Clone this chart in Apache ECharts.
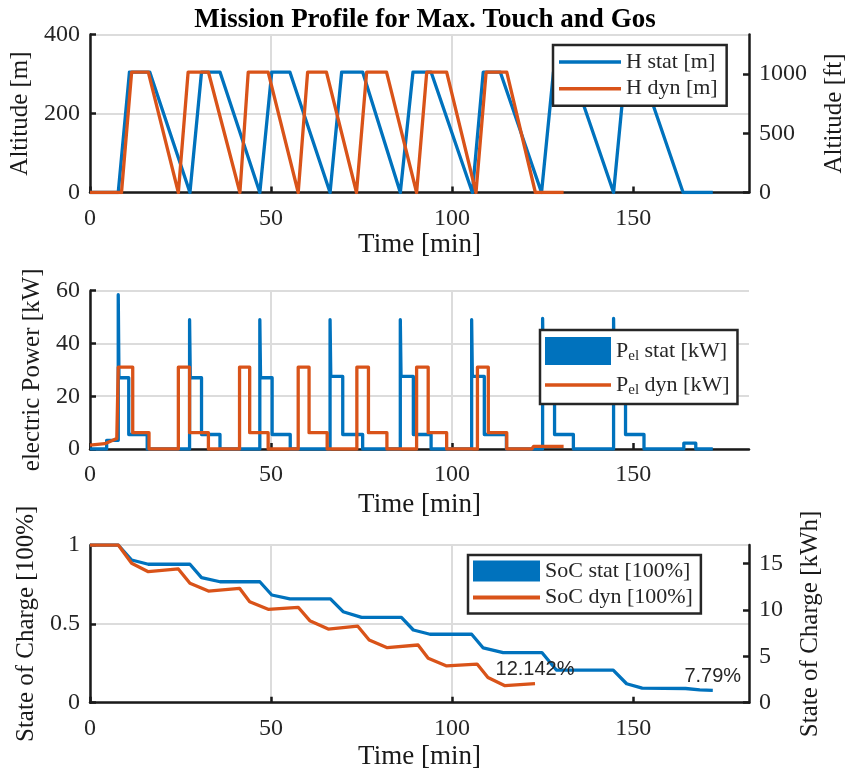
<!DOCTYPE html>
<html>
<head>
<meta charset="utf-8">
<script src="https://cdn.jsdelivr.net/npm/echarts@6/dist/echarts.min.js"></script>
<style>
  html, body { margin: 0; padding: 0; background: #fff; }
  #chart { width: 847px; height: 776px; }
</style>
</head>
<body>
<div id="chart"></div>
<script>
// altitude [m] over time [min]
const hStatT = [0, 7.8, 10.9, 16.5, 27.6, 30.8, 35.9, 46.9, 50.2, 55.2, 66.3, 69.5, 75.3, 85.7, 89.2, 94.2, 105.6, 108.6, 113.3, 124.7, 128.0, 133.2, 144.6, 147.8, 152.4, 163.8, 172.0];
const hStatV = [0, 0, 305, 305, 0, 305, 305, 0, 305, 305, 0, 305, 305, 0, 305, 305, 0, 305, 305, 0, 305, 305, 0, 305, 305, 0, 0];
const hDynT = [0, 8.7, 11.5, 16.1, 24.4, 27.1, 32.7, 41.4, 43.7, 49.2, 57.5, 60.1, 65.3, 73.6, 76.4, 81.9, 90.2, 93.0, 98.5, 106.6, 109.4, 115.1, 123.0, 130.8];
const hDynV = [0, 0, 305, 305, 0, 305, 305, 0, 305, 305, 0, 305, 305, 0, 305, 305, 0, 305, 305, 0, 305, 305, 0, 0];

// electric power [kW]
const pStatT = [0, 4.6, 4.6, 7.8, 7.8, 8.0, 8.0, 10.7, 10.7, 15.8, 15.8,
  27.5, 27.5, 27.7, 27.7, 30.8, 30.8, 35.9, 35.9,
  46.9, 46.9, 47.1, 47.1, 50.3, 50.3, 55.3, 55.3,
  66.3, 66.3, 66.5, 66.5, 69.8, 69.8, 75.3, 75.3,
  85.7, 85.7, 85.9, 85.9, 89.3, 89.3, 94.2, 94.2,
  105.4, 105.4, 105.6, 105.6, 108.9, 108.9, 115.0, 115.0,
  125.0, 125.0, 125.2, 125.2, 128.3, 128.3, 133.5, 133.5,
  144.6, 144.6, 144.8, 144.8, 147.9, 147.9, 153.0, 153.0,
  164.0, 164.0, 167.3, 167.3, 172.0];
const pStatV = [0, 0, 3.3, 3.3, 58.5, 58.5, 27, 27, 5.5, 5.5, 0,
  0, 49, 49, 27, 27, 5.5, 5.5, 0,
  0, 49, 49, 27, 27, 5.5, 5.5, 0,
  0, 49, 49, 27.5, 27.5, 5.5, 5.5, 0,
  0, 49, 49, 27.5, 27.5, 5.5, 5.5, 0,
  0, 49, 49, 27.5, 27.5, 5.5, 5.5, 0,
  0, 49.5, 49.5, 27.5, 27.5, 5.5, 5.5, 0,
  0, 49.5, 49.5, 27.5, 27.5, 5.5, 5.5, 0,
  0, 2.2, 2.2, 0, 0];
const pDynT = [0, 4.1, 7.4, 7.8, 11.8, 11.8, 16.3, 16.3,
  24.4, 24.4, 27.5, 27.5, 32.7, 32.7,
  41.3, 41.3, 44.1, 44.1, 49.2, 49.2,
  57.5, 57.5, 60.5, 60.5, 65.5, 65.5,
  73.7, 73.7, 76.9, 76.9, 82.0, 82.0,
  90.2, 90.2, 93.4, 93.4, 98.5, 98.5,
  107.0, 107.0, 110.0, 110.0, 115.1, 115.1,
  122.0, 122.5, 130.8];
const pDynV = [1.5, 2, 4, 31, 31, 6.2, 6.2, 0,
  0, 31, 31, 6.2, 6.2, 0,
  0, 31, 31, 6.2, 6.2, 0,
  0, 31, 31, 6.2, 6.2, 0,
  0, 31, 31, 6.2, 6.2, 0,
  0, 31, 31, 6.2, 6.2, 0,
  0, 31, 31, 6.2, 6.2, 0,
  0, 1, 1];

// state of charge [100%]
const socStatT = [0, 7.8, 11.5, 16.1, 27.6, 30.8, 35.9, 46.9, 50.2, 55.2, 66.4, 69.9, 75.0, 86.0, 89.3, 93.9, 105.4, 108.6, 114.1, 124.8, 128.8, 144.5, 148.2, 152.5, 164.5, 168.4, 172.0];
const socStatV = [1, 1, 0.905, 0.878, 0.878, 0.793, 0.767, 0.767, 0.683, 0.658, 0.658, 0.577, 0.541, 0.541, 0.461, 0.434, 0.434, 0.347, 0.318, 0.318, 0.207, 0.207, 0.12, 0.092, 0.09, 0.081, 0.0779];
const socDynT = [0, 7.8, 11.5, 16.1, 24.4, 27.6, 32.7, 41.3, 44.1, 49.2, 57.5, 60.7, 65.8, 73.9, 77.1, 82.1, 90.6, 93.4, 98.5, 106.9, 109.9, 114.6, 122.9];
const socDynV = [1, 1, 0.884, 0.831, 0.848, 0.757, 0.708, 0.725, 0.640, 0.592, 0.605, 0.520, 0.467, 0.486, 0.398, 0.349, 0.366, 0.282, 0.233, 0.245, 0.16, 0.108, 0.12142];

// tick labels
const timeTicks = [0, 50, 100, 150];
const altMTicks = [0, 200, 400];
const altFtTicks = [0, 500, 1000];
const powerTicks = [0, 20, 40, 60];
const socTicks = [0, 0.5, 1];
const kwhTicks = [0, 5, 10, 15];

const BLUE = '#0072BD';
const ORANGE = '#D95319';
const SERIF = 'Liberation Serif';
const AXIS_COL = '#1a1a1a';
const TEXT_COL = '#262626';
const LINE_ICON = 'path://M0,0 H62 V3.5 H0 Z';

const pairs = (t, v) => t.map((x, i) => [x, v[i]]);
// only the last point gets a (invisible) symbol so that its label is drawn
const withEndLabel = (t, v) => t.map((x, i) => {
  if (i < t.length - 1) return [x, v[i]];
  return {
    value: [x, v[i]],
    symbol: 'circle', symbolSize: 2,
    itemStyle: { color: 'rgba(0,0,0,0)' },
    label: {
      show: true, position: 'top', distance: 3,
      formatter: (p) => +(p.value[1] * 100).toFixed(3) + '%',
      fontFamily: 'Liberation Sans', fontSize: 20, color: TEXT_COL
    }
  };
});

function xAxisFor(gridIndex, nameGap) {
  return {
    type: 'value', gridIndex: gridIndex, min: 0, max: 182,
    name: 'Time [min]', nameLocation: 'middle', nameGap: nameGap,
    nameTextStyle: { fontFamily: SERIF, fontSize: 27, color: AXIS_COL, verticalAlign: 'middle' },
    axisLine: { show: true, onZero: false, lineStyle: { color: AXIS_COL, width: 2.5 } },
    axisTick: { show: true, inside: true, length: 6, customValues: timeTicks, lineStyle: { color: AXIS_COL, width: 2.5 } },
    axisLabel: { customValues: timeTicks, margin: 14, fontFamily: SERIF, fontSize: 24, color: TEXT_COL, formatter: (v) => String(v) },
    splitLine: { show: true, showMaxLine: false, lineStyle: { color: '#dcdcdc', width: 2 } }
  };
}

function yAxisFor(gridIndex, opts) {
  const right = opts.position === 'right';
  return {
    type: 'value', gridIndex: gridIndex, position: opts.position || 'left',
    min: opts.min, max: opts.max,
    name: opts.name, nameLocation: 'middle', nameGap: opts.nameGap, nameRotate: 90,
    nameTextStyle: { fontFamily: SERIF, fontSize: 25, color: AXIS_COL, verticalAlign: 'middle' },
    axisLine: { show: true, lineStyle: { color: AXIS_COL, width: 2.5 } },
    axisTick: { show: true, inside: true, length: 6, customValues: opts.ticks, lineStyle: { color: AXIS_COL, width: 2.5 } },
    axisLabel: { customValues: opts.ticks, margin: 10, fontFamily: SERIF, fontSize: 24, color: TEXT_COL, formatter: (v) => String(v) },
    splitLine: { show: !right, lineStyle: { color: '#dcdcdc', width: 2 } }
  };
}

function lineSeries(name, xIdx, yIdx, data, color) {
  return {
    name: name, type: 'line', xAxisIndex: xIdx, yAxisIndex: yIdx,
    data: data, symbol: 'none', showSymbol: true, animation: false,
    lineStyle: { color: color, width: 3.3, join: 'round' },
    itemStyle: { color: color },
    labelLayout: { hideOverlap: false }
  };
}

const legendBase = {
  orient: 'vertical', backgroundColor: '#fff',
  borderColor: '#262626', borderWidth: 2.5, borderRadius: 0,
  selectedMode: false, symbolKeepAspect: true
};

const chart = echarts.init(document.getElementById('chart'), null, { renderer: 'canvas' });
chart.setOption({
  backgroundColor: '#fff',
  animation: false,
  title: {
    text: 'Mission Profile for Max. Touch and Gos',
    left: 420, top: 2, textAlign: 'center',
    textStyle: { fontFamily: SERIF, fontSize: 27, fontWeight: 'bold', color: '#000' }
  },
  grid: [
    { left: 90, top: 34.5, width: 659, height: 158, outerBoundsMode: 'none' },
    { left: 90, top: 290.7, width: 659, height: 158.3, outerBoundsMode: 'none' },
    { left: 90, top: 545, width: 659, height: 157.7, outerBoundsMode: 'none' }
  ],
  xAxis: [xAxisFor(0, 51), xAxisFor(1, 56), xAxisFor(2, 54)],
  yAxis: [
    yAxisFor(0, { min: 0, max: 400, ticks: altMTicks, name: 'Altitude [m]', nameGap: 66 }),
    yAxisFor(0, { position: 'right', min: 0, max: 1333, ticks: altFtTicks, name: 'Altitude [ft]', nameGap: 85 }),
    yAxisFor(1, { min: 0, max: 60, ticks: powerTicks, name: 'electric Power [kW]', nameGap: 41 }),
    yAxisFor(2, { min: 0, max: 1, ticks: socTicks, name: 'State of Charge [100%]', nameGap: 61 }),
    yAxisFor(2, { position: 'right', min: 0, max: 17, ticks: kwhTicks, name: 'State of Charge [kWh]', nameGap: 61 })
  ],
  legend: [
    Object.assign({}, legendBase, {
      left: 553, top: 45, padding: [5, 9, 5, 6],
      itemWidth: 62, itemHeight: 14, itemGap: 2.7,
      data: [{ name: 'H stat [m]', icon: LINE_ICON }, { name: 'H dyn [m]', icon: LINE_ICON }],
      textStyle: { fontFamily: SERIF, fontSize: 22, color: TEXT_COL, lineHeight: 24 }
    }),
    Object.assign({}, legendBase, {
      left: 540, top: 330, padding: [7, 8, 6, 5],
      itemWidth: 66, itemHeight: 28, itemGap: 9,
      data: [{ name: 'P_el stat [kW]', icon: 'rect' }, { name: 'P_el dyn [kW]', icon: LINE_ICON }],
      formatter: (n) => '{m|P}{s|el}{m|' + n.slice(4) + '}',
      textStyle: {
        fontFamily: SERIF, fontSize: 22, color: TEXT_COL,
        rich: {
          m: { fontFamily: SERIF, fontSize: 22, color: TEXT_COL, lineHeight: 26 },
          s: { fontFamily: SERIF, fontSize: 15, color: TEXT_COL, lineHeight: 12, verticalAlign: 'bottom' }
        }
      }
    }),
    Object.assign({}, legendBase, {
      left: 468, top: 555, padding: [5, 8, 5, 5],
      itemWidth: 67, itemHeight: 21, itemGap: 4.5,
      data: [{ name: 'SoC stat [100%]', icon: 'rect' }, { name: 'SoC dyn [100%]', icon: LINE_ICON }],
      textStyle: { fontFamily: SERIF, fontSize: 22, color: TEXT_COL, lineHeight: 22 }
    })
  ],
  series: [
    lineSeries('H stat [m]', 0, 0, pairs(hStatT, hStatV), BLUE),
    lineSeries('H dyn [m]', 0, 0, pairs(hDynT, hDynV), ORANGE),
    lineSeries('P_el stat [kW]', 1, 2, pairs(pStatT, pStatV), BLUE),
    lineSeries('P_el dyn [kW]', 1, 2, pairs(pDynT, pDynV), ORANGE),
    lineSeries('SoC stat [100%]', 2, 3, withEndLabel(socStatT, socStatV), BLUE),
    lineSeries('SoC dyn [100%]', 2, 3, withEndLabel(socDynT, socDynV), ORANGE)
  ]
});
</script>
</body>
</html>
